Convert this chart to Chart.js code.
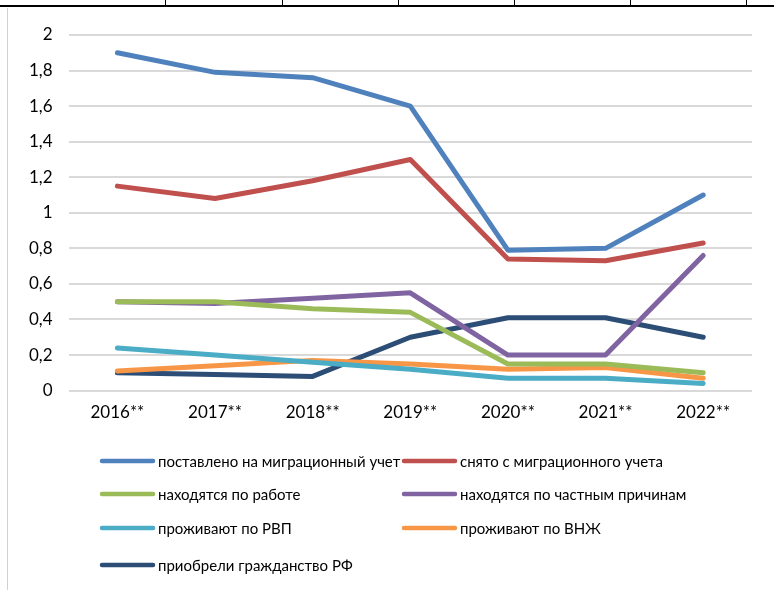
<!DOCTYPE html>
<html>
<head>
<meta charset="utf-8">
<script src="https://cdn.jsdelivr.net/npm/chart.js@4"></script>
<style>
  body { margin: 0; background: #fff; }
  #wrap { position: relative; width: 774px; height: 590px; overflow: hidden; }
  #chart { position: absolute; left: 0; top: 0; }
  .rule { position: absolute; background: #000; }
  .side { position: absolute; background: #d0d0d0; }
</style>
</head>
<body>
<div id="wrap">
  <canvas id="chart" width="774" height="590"></canvas>
  <!-- table frame above the picture -->
  <div class="rule" style="left:0;top:5px;width:774px;height:2px"></div>
  <div class="rule" style="left:165px;top:0;width:1px;height:6px"></div>
  <div class="rule" style="left:282px;top:0;width:1px;height:6px"></div>
  <div class="rule" style="left:398px;top:0;width:1px;height:6px"></div>
  <div class="rule" style="left:514px;top:0;width:1px;height:6px"></div>
  <div class="rule" style="left:630px;top:0;width:1px;height:6px"></div>
  <div class="rule" style="left:746px;top:0;width:1px;height:6px"></div>
  <div class="side" style="left:7px;top:8px;width:1px;height:582px"></div>
</div>
<script>
const years = ['2016**', '2017**', '2018**', '2019**', '2020**', '2021**', '2022**'];

const postavleno = [1.9, 1.79, 1.76, 1.6, 0.79, 0.8, 1.1];
const snyato = [1.15, 1.08, 1.18, 1.3, 0.74, 0.73, 0.83];
const poRabote = [0.5, 0.5, 0.46, 0.44, 0.15, 0.15, 0.1];
const chastnye = [0.5, 0.49, 0.52, 0.55, 0.2, 0.2, 0.76];
const poRVP = [0.24, 0.2, 0.16, 0.12, 0.07, 0.07, 0.04];
const poVNZh = [0.11, 0.14, 0.17, 0.15, 0.12, 0.13, 0.07];
const grazhdanstvo = [0.1, 0.09, 0.08, 0.3, 0.41, 0.41, 0.3];

const yTicks = [0, 0.2, 0.4, 0.6, 0.8, 1, 1.2, 1.4, 1.6, 1.8, 2];

const FONT = 'Lato, "Open Sans", sans-serif';

function serie(label, data, color) {
    return {
        label: label,
        data: data,
        borderColor: color,
        backgroundColor: color,
        borderWidth: 5,
        borderCapStyle: 'round',
        borderJoinStyle: 'round',
        pointRadius: 0,
        tension: 0,
        fill: false
    };
}

// legend in two columns under the plot
const legendGrid = {
    id: 'legendGrid',
    afterDraw(chart) {
        const ctx = chart.ctx;
        const cols = [100, 402];
        const rows = [461, 494, 528, 565];
        ctx.save();
        ctx.font = '15px ' + FONT;
        ctx.textBaseline = 'middle';
        chart.data.datasets.forEach((ds, i) => {
            const x = cols[i % 2];
            const y = rows[Math.floor(i / 2)];
            ctx.strokeStyle = ds.borderColor;
            ctx.lineWidth = 4.5;
            ctx.lineCap = 'round';
            ctx.beginPath();
            ctx.moveTo(x + 2, y);
            ctx.lineTo(x + 53, y);
            ctx.stroke();
            ctx.fillStyle = '#000';
            ctx.fillText(ds.label, x + 58, y + 1);
        });
        ctx.restore();
    }
};

let grafico = document.getElementById('chart').getContext('2d');

let chart = new Chart(grafico, {
    type: 'line',
    data: {
        labels: years,
        datasets: [
            serie('поставлено на миграционный учет', postavleno, '#4F81BD'),
            serie('снято с миграционного учета', snyato, '#C0504D'),
            serie('находятся по работе', poRabote, '#9BBB59'),
            serie('находятся по частным причинам', chastnye, '#8064A2'),
            serie('проживают по РВП', poRVP, '#4BACC6'),
            serie('проживают по ВНЖ', poVNZh, '#F79646'),
            serie('приобрели гражданство РФ', grazhdanstvo, '#2C4D75')
        ]
    },
    options: {
        responsive: false,
        animation: false,
        layout: { padding: { top: 35, left: 13, right: 22, bottom: 155 } },
        plugins: {
            legend: { display: false },
            tooltip: { enabled: false }
        },
        scales: {
            x: {
                offset: true,
                grid: { display: false, drawTicks: false },
                border: { display: false },
                ticks: { color: '#000', font: { family: FONT, size: 17 }, padding: 12 }
            },
            y: {
                min: 0,
                max: 2,
                afterBuildTicks(axis) { axis.ticks = yTicks.map(v => ({ value: v })); },
                grid: { color: '#d9d9d9', lineWidth: 2, drawTicks: false },
                border: { display: false },
                ticks: {
                    color: '#000',
                    font: { family: FONT, size: 17 },
                    padding: 16,
                    callback: v => String(v).replace('.', ',')
                }
            }
        }
    },
    plugins: [legendGrid]
});
</script>
</body>
</html>
